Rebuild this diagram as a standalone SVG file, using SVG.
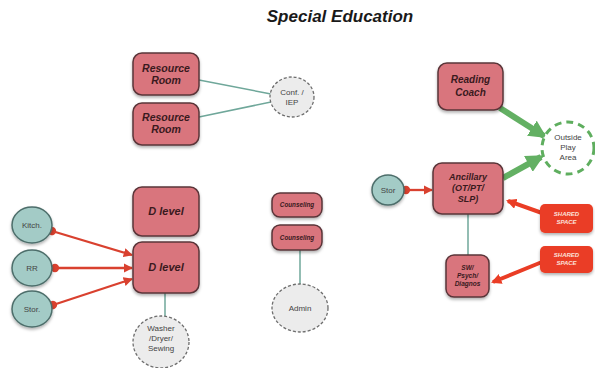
<svg xmlns="http://www.w3.org/2000/svg" width="595" height="368" viewBox="0 0 595 368">
<defs>
<filter id="sh" x="-20%" y="-20%" width="140%" height="150%">
<feDropShadow dx="0" dy="2" stdDeviation="1.5" flood-color="#000" flood-opacity="0.3"/>
</filter>
<marker id="dot" viewBox="0 0 10 10" refX="5" refY="5" markerWidth="4" markerHeight="4" orient="auto">
<circle cx="5" cy="5" r="4.5" fill="#d9412f"/>
</marker>
<marker id="rarr" viewBox="0 0 10 10" refX="9" refY="5" markerWidth="4" markerHeight="4" orient="auto">
<path d="M0,0 L10,5 L0,10 Z" fill="#d9412f"/>
</marker>
<marker id="garr" viewBox="0 0 10 10" refX="8" refY="5" markerWidth="3" markerHeight="3" orient="auto">
<path d="M0,0 L10,5 L0,10 Z" fill="#63b063"/>
</marker>
<marker id="sarr" viewBox="0 0 10 10" refX="8" refY="5" markerWidth="2.6" markerHeight="2.6" orient="auto">
<path d="M0,0 L10,5 L0,10 Z" fill="#ea3d25"/>
</marker>
</defs>
<style>
.box{fill:#d9747d;stroke:#5a3438;stroke-width:1.5;filter:url(#sh)}
.bt{font-family:"Liberation Sans",Arial,sans-serif;font-weight:bold;font-style:italic;fill:#3a1a1e;text-anchor:middle}
.teal{fill:#a3cbc6;stroke:#4d6e6b;stroke-width:1.5;filter:url(#sh)}
.gray{fill:#ececec;stroke:#6d6d6d;stroke-width:1.3;stroke-dasharray:3 2}
.ct{font-family:"Liberation Sans",Arial,sans-serif;fill:#444;text-anchor:middle;font-size:8px}
.gl{stroke:#6fa79a;stroke-width:1.5;fill:none}
.rl{stroke:#d9412f;stroke-width:2.3;fill:none;marker-start:url(#dot);marker-end:url(#rarr)}
.grn{stroke:#63b063;stroke-width:6;fill:none;marker-end:url(#garr)}
.shr{fill:#ea3d25;filter:url(#sh)}
.st{font-family:"Liberation Sans",Arial,sans-serif;font-weight:bold;font-style:italic;fill:#fbe0da;text-anchor:middle;font-size:6px}
</style>
<text x="340" y="22" font-family="Liberation Sans, Arial, sans-serif" font-weight="bold" font-style="italic" font-size="17" fill="#1a1a1a" text-anchor="middle">Special Education</text>

<g id="connectors">
<line class="gl" x1="199" y1="80" x2="271" y2="94"/>
<line class="gl" x1="199" y1="117" x2="271" y2="102"/>
<line class="gl" x1="165" y1="293" x2="165" y2="316"/>
<line class="gl" x1="300" y1="250" x2="300" y2="284"/>
<line class="gl" x1="468" y1="214" x2="468" y2="255" stroke="#7a9a92"/>
<line class="rl" x1="52" y1="231" x2="132" y2="255"/>
<line class="rl" x1="55" y1="268" x2="132" y2="268"/>
<line class="rl" x1="53" y1="305" x2="132" y2="279"/>
<line class="rl" x1="406" y1="190" x2="432" y2="190"/>
<line class="grn" x1="500" y1="108" x2="544" y2="136"/>
<line class="grn" x1="503" y1="178" x2="541" y2="157"/>
<line x1="542" y1="213" x2="508" y2="201" stroke="#ea3d25" stroke-width="4" marker-end="url(#sarr)"/>
<line x1="542" y1="262" x2="493" y2="282" stroke="#ea3d25" stroke-width="4" marker-end="url(#sarr)"/>
</g>

<g id="resource1"><rect class="box" x="133" y="53" width="66" height="42" rx="9"/><text class="bt" font-size="10.5" x="166" y="72">Resource</text><text class="bt" font-size="10.5" x="166" y="84">Room</text></g>
<g id="resource2"><rect class="box" x="133" y="103" width="66" height="42" rx="9"/><text class="bt" font-size="10.5" x="166" y="121">Resource</text><text class="bt" font-size="10.5" x="166" y="133">Room</text></g>
<g id="conf"><ellipse class="gray" cx="292" cy="97" rx="22" ry="20"/><text class="ct" x="292" y="95">Conf. /</text><text class="ct" x="292" y="105">IEP</text></g>

<g id="dlevel1"><rect class="box" x="133" y="187" width="66" height="49" rx="9"/><text class="bt" font-size="11" x="166" y="215">D level</text></g>
<g id="dlevel2"><rect class="box" x="133" y="242" width="66" height="51" rx="9"/><text class="bt" font-size="11" x="166" y="271">D level</text></g>
<g id="kitch"><ellipse class="teal" cx="32" cy="225" rx="20" ry="18"/><text class="ct" x="32" y="228">Kitch.</text></g>
<g id="rr"><ellipse class="teal" cx="32" cy="268" rx="20" ry="18"/><text class="ct" x="32" y="271">RR</text></g>
<g id="stor1"><ellipse class="teal" cx="32" cy="309" rx="20" ry="18"/><text class="ct" x="32" y="312">Stor.</text></g>
<g id="washer"><ellipse class="gray" cx="161" cy="342" rx="28" ry="26"/><text class="ct" x="161" y="331">Washer</text><text class="ct" x="161" y="341">/Dryer/</text><text class="ct" x="161" y="351">Sewing</text></g>

<g id="counseling1"><rect class="box" x="272" y="193" width="50" height="24" rx="8"/><text class="bt" font-size="6.3" x="297" y="207">Counseling</text></g>
<g id="counseling2"><rect class="box" x="272" y="225" width="50" height="25" rx="8"/><text class="bt" font-size="6.3" x="297" y="240">Counseling</text></g>
<g id="admin"><ellipse class="gray" cx="300" cy="308" rx="28" ry="24"/><text class="ct" x="300" y="311">Admin</text></g>

<g id="reading"><rect class="box" x="438" y="63" width="65" height="47" rx="9"/><text class="bt" font-size="10" x="470.5" y="83">Reading</text><text class="bt" font-size="10" x="470.5" y="96">Coach</text></g>
<g id="outside"><circle cx="568" cy="148" r="26" fill="#fff" stroke="#5fae5f" stroke-width="3" stroke-dasharray="7 5"/><text class="ct" x="568" y="140">Outside</text><text class="ct" x="568" y="150">Play</text><text class="ct" x="568" y="160">Area</text></g>
<g id="ancillary"><rect class="box" x="433" y="163" width="70" height="51" rx="9"/><text class="bt" font-size="9" x="468" y="180">Ancillary</text><text class="bt" font-size="9" x="468" y="191">(OT/PT/</text><text class="bt" font-size="9" x="468" y="202">SLP)</text></g>
<g id="stor2"><ellipse class="teal" cx="388" cy="190" rx="16" ry="15"/><text class="ct" x="388" y="193">Stor</text></g>
<g id="sw"><rect class="box" x="446" y="255" width="43" height="42" rx="8"/><text class="bt" font-size="6.5" x="467.5" y="270">SW/</text><text class="bt" font-size="6.5" x="467.5" y="278">Psych/</text><text class="bt" font-size="6.5" x="467.5" y="286">Diagnos</text></g>
<g id="shared1"><rect class="shr" x="540" y="204" width="53" height="29" rx="5"/><text class="st" x="566.5" y="216">SHARED</text><text class="st" x="566.5" y="224">SPACE</text></g>
<g id="shared2"><rect class="shr" x="540" y="246" width="53" height="27" rx="5"/><text class="st" x="566.5" y="257">SHARED</text><text class="st" x="566.5" y="265">SPACE</text></g>
</svg>
